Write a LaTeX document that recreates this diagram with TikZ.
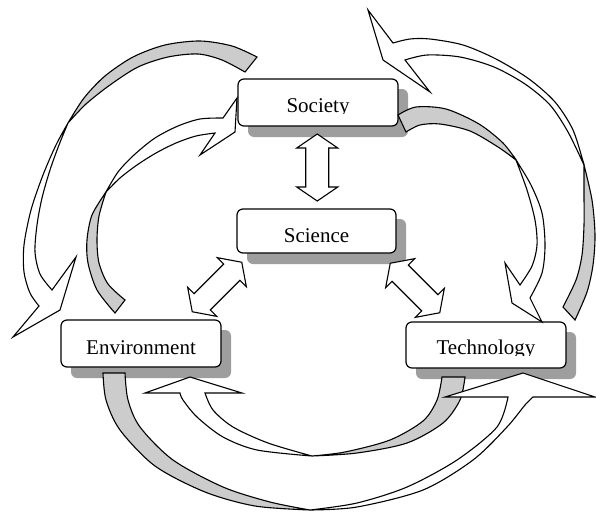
\documentclass[tikz,border=0pt]{standalone}
\usepackage{fontspec}
\setmainfont{Liberation Serif}
\usetikzlibrary{calc,backgrounds}
\definecolor{ribbongray}{RGB}{204,204,204}
\definecolor{shadowgray}{RGB}{158,158,158}

% A twisted ribbon arrow: back (gray) half from the tail to the twist point,
% front (white) half from the twist point to the arrow head.
% #1 outer edge tail->twist, #2 back inner edge twist->tail,
% #3 outer edge twist->head, #4 head corners, #5 front inner edge head->twist
\newcommand\ribbonarrow[5]{%
  \filldraw[ribbonback] plot[smooth] coordinates {#1} -- plot[smooth] coordinates {#2} -- cycle;
  \filldraw[ribbonfront] plot[smooth] coordinates {#3} #4 -- plot[smooth] coordinates {#5} -- cycle;
}

\begin{document}
\begin{tikzpicture}[x=1pt, y=-1pt,
  box/.style={draw, line width=1.2pt, fill=white, rounded corners=6pt, inner sep=0pt, outer sep=0pt},
  shadowbox/.style={fill=shadowgray, rounded corners=6pt},
  boxtext/.style={font=\fontsize{21}{25}\selectfont, inner sep=0pt, anchor=base},
  ribbonback/.style={fill=ribbongray, draw=black, line width=1.1pt},
  ribbonfront/.style={fill=white, draw=black, line width=1.1pt},
  blockarrow/.style={fill=white, draw=black, line width=1.1pt},
  pics/dblarrow/.style={code={
    \draw[blockarrow] (#1,0) -- ({#1-14},20.5) -- ({#1-14},11.5) -- ({-#1+14},11.5)
      -- ({-#1+14},20.5) -- (-#1,0) -- ({-#1+14},-20.5) -- ({-#1+14},-11.5)
      -- ({#1-14},-11.5) -- ({#1-14},-20.5) -- cycle;}}
]
\useasboundingbox (0,0) rectangle (596,511);

% boxes
\node[box, minimum width=160pt, minimum height=47pt] (soc) at (318,102.5) {};
\node[box, minimum width=159pt, minimum height=44pt] (sci) at (316.5,231) {};
\node[box, minimum width=160pt, minimum height=47pt] (env) at (141,343.5) {};
\node[box, minimum width=160pt, minimum height=46pt] (tec) at (486,345) {};

\begin{scope}[on background layer]
  \fill[white] (0,0) rectangle (596,511);
  \foreach \n in {soc,sci,env,tec}
    \fill[shadowbox] ($(\n.north west)+(10,10)$) rectangle ($(\n.south east)+(10,11)$);
\end{scope}

% box texts (descenders cut at the text frame)
\begin{scope}
  \clip (soc.north west) rectangle (398,113.5);
  \node[boxtext] (soctext) at (318,112) {Society};
\end{scope}
\begin{scope}
  \clip (sci.north west) rectangle (396,243.5);
  \node[boxtext] (scitext) at (316.5,242) {Science};
\end{scope}
\begin{scope}
  \clip (env.north west) rectangle (221,355.5);
  \node[boxtext] (envtext) at (141,354) {Environment};
\end{scope}
\begin{scope}
  \clip (tec.north west) rectangle (566,355.5);
  \node[boxtext] (tectext) at (486,354) {Technology};
\end{scope}

% top left, outer
\ribbonarrow
  {(257,57) (232,46) (200,41) (165,45) (133,57) (105,76) (84,98) (68,123)}
  {(68,123) (86,104) (110,85) (138,67) (168,57) (198,54) (222,60) (245,72)}
  {(68,123) (56,145) (43,175) (31,210) (24,245) (24,272) (30,293) (39,306)}
  {-- (13,337) -- (60,310) -- (76,257)}
  {(52,290) (40,274) (35,252) (37,225) (42,198) (50,170) (59,145) (68,123)}

% top left, inner
\ribbonarrow
  {(115,313) (97,290) (88,263) (87,240) (92,215) (106,192)}
  {(106,192) (99,216) (97,240) (99,263) (108,284) (125,300)}
  {(106,192) (118,172) (134,155) (155,138) (178,126) (200,119) (223,118)}
  {-- (237,98) -- (235,132) -- (200,155)}
  {(215,133) (196,136) (176,143) (156,153) (137,165) (120,178) (106,192)}

% top right, outer
\ribbonarrow
  {(575,320) (587,292) (593,265) (595,235) (592,200) (584,165)}
  {(584,165) (584,195) (584,225) (582,255) (576,280) (563,307)}
  {(584,165) (573,130) (555,102) (529,79) (496,59) (463,45) (430,39) (410,39) (393,43)}
  {-- (368,10) -- (383,60) -- (430,92)}
  {(405,60) (427,55) (460,57) (494,67) (525,84) (550,105) (568,132) (584,165)}

% top right, inner
\ribbonarrow
  {(398,115) (416,107) (446,109) (479,124) (503,143) (516,160)}
  {(516,160) (498,147) (470,131) (440,124) (420,125) (406,132)}
  {(516,160) (531,185) (542,213) (545,245) (542,273) (530,298)}
  {-- (542,322) -- (512,303) -- (505,263)}
  {(520,285) (532,266) (537,245) (535,220) (527,190) (516,160)}

% bottom, inner
\ribbonarrow
  {(465,377) (460,400) (443,423) (407,443) (357,453) (312,456)}
  {(312,456) (345,452) (390,440) (423,421) (437,400) (442,377)}
  {(312,456) (257,450) (223,437) (197,417) (183,400) (180,393)}
  {-- (145,393) -- (190,377) -- (242,393)}
  {(205,393) (213,410) (233,427) (268,443) (312,456)}

% bottom, outer
\ribbonarrow
  {(103,373) (106,400) (120,430) (155,466) (205,492) (255,506) (310,510)}
  {(310,510) (270,502) (223,487) (173,460) (140,427) (128,400) (125,373)}
  {(310,510) (357,507) (423,490) (473,460) (507,427) (525,405) (533,397)}
  {-- (595,397) -- (523,373) -- (445,397)}
  {(508,397) (497,427) (457,460) (407,487) (357,503) (310,510)}

% double block arrows between the boxes
\coordinate (socsci) at ($(soc.south)!0.5!(sci.north)$);
\coordinate (scienv) at (217,287);
\coordinate (scitec) at (415,288);
\pic[rotate=90] at (socsci) {dblarrow=33.5};
\pic[rotate=45] at (scienv) {dblarrow=35};
\pic[rotate=-45] at (scitec) {dblarrow=35};
\end{tikzpicture}
\end{document}
